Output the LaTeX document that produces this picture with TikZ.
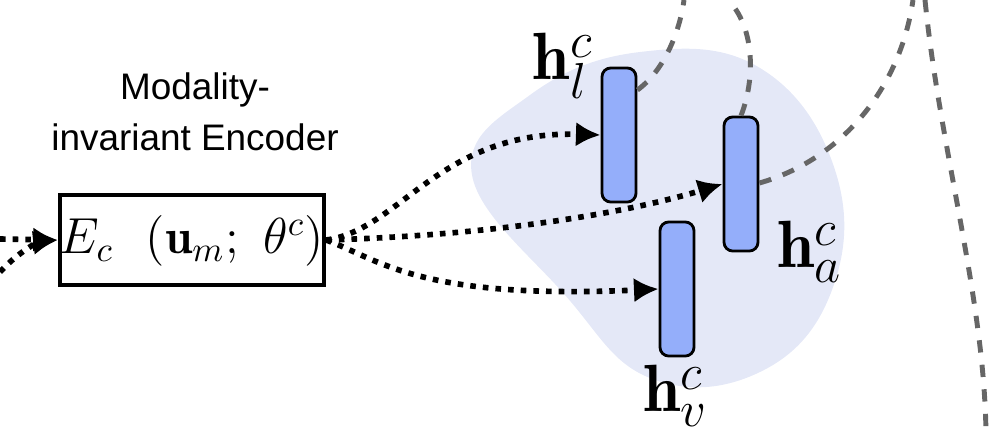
\documentclass[tikz,border=0pt]{standalone}
\usepackage{fontspec}
\newfontfamily\labelfont{Liberation Sans}
\usetikzlibrary{arrows.meta}
\definecolor{blobblue}{HTML}{E4E8F7}
\definecolor{barblue}{HTML}{94AEFA}
\definecolor{dashgray}{HTML}{666666}
\tikzset{
  feat/.style={draw=black, thick, fill=barblue, rounded corners=2.5pt, minimum width=0.34cm, minimum height=1.34cm, inner sep=0pt},
  flow/.style={line width=1.6pt, dotted, -{Latex[length=7pt,width=7pt]}},
  link/.style={line width=1.4pt, dashgray, dash pattern=on 3.5pt off 3.5pt},
  hlab/.style={font=\fontsize{19}{21}\selectfont, inner sep=0pt}
}
\begin{document}
\begin{tikzpicture}[x=0.01cm, y=-0.01cm]
			\useasboundingbox (0,0) rectangle (1000,436);
			% shared space
			\fill[blobblue] plot[smooth cycle, tension=0.7] coordinates {(472,175) (530,95) (640,52) (760,68) (835,170) (832,290) (760,372) (650,378) (565,295)};
			% encoder
			\node (enc) [draw, line width=1.2pt, minimum width=2.55cm, minimum height=0.9cm, inner sep=0pt, font=\fontsize{14}{16}\selectfont] at (192,240) {$E_c\ \ \Big(\mathbf{u}_m;\ \theta^c\Big)$};
			\node (title) [font=\labelfont\fontsize{10.5}{12.5}\selectfont, align=center] at (195,112) {Modality-\\[2pt]invariant Encoder};
			% features
			\node (hl) [feat] at (619,135) {};
			\node (ha) [feat] at (741,184) {};
			\node (hv) [feat] at (677,289) {};
			\node (lhl) [hlab] at (563,66) {$\mathbf{h}_l^c$};
			\node (lha) [hlab] at (810,252) {$\mathbf{h}_a^c$};
			\node (lhv) [hlab] at (676,396) {$\mathbf{h}_v^c$};
			% inputs
			\coordinate (in1) at (0,239);
			\coordinate (in2) at (0,272);
			\draw [flow] (in1) -- (enc.west);
			\draw [flow] (in2) .. controls (20,250) and (40,242) .. (enc.west);
			% outputs
			\draw [flow] (enc.east) .. controls (400,230) and (440,130) .. (hl.west);
			\draw [flow] (enc.east) .. controls (500,235) and (630,212) .. (ha.west);
			\draw [flow] (enc.east) .. controls (380,260) and (420,300) .. (hv.west);
			% links out
			\coordinate (o1) at (684,0);
			\coordinate (o2) at (730,2);
			\coordinate (o3) at (913,0);
			\coordinate (o4) at (925,0);
			\coordinate (o5) at (986,436);
			\draw [link] (hl.east |- 0,90) .. controls (665,70) and (680,30) .. (o1);
			\draw [link] (ha.north) .. controls (755,80) and (755,30) .. (o2);
			\draw [link] (ha.east |- 0,183) .. controls (840,160) and (900,90) .. (o3);
			\draw [link] (o4) .. controls (940,150) and (985,300) .. (o5);
		\end{tikzpicture}
\end{document}
